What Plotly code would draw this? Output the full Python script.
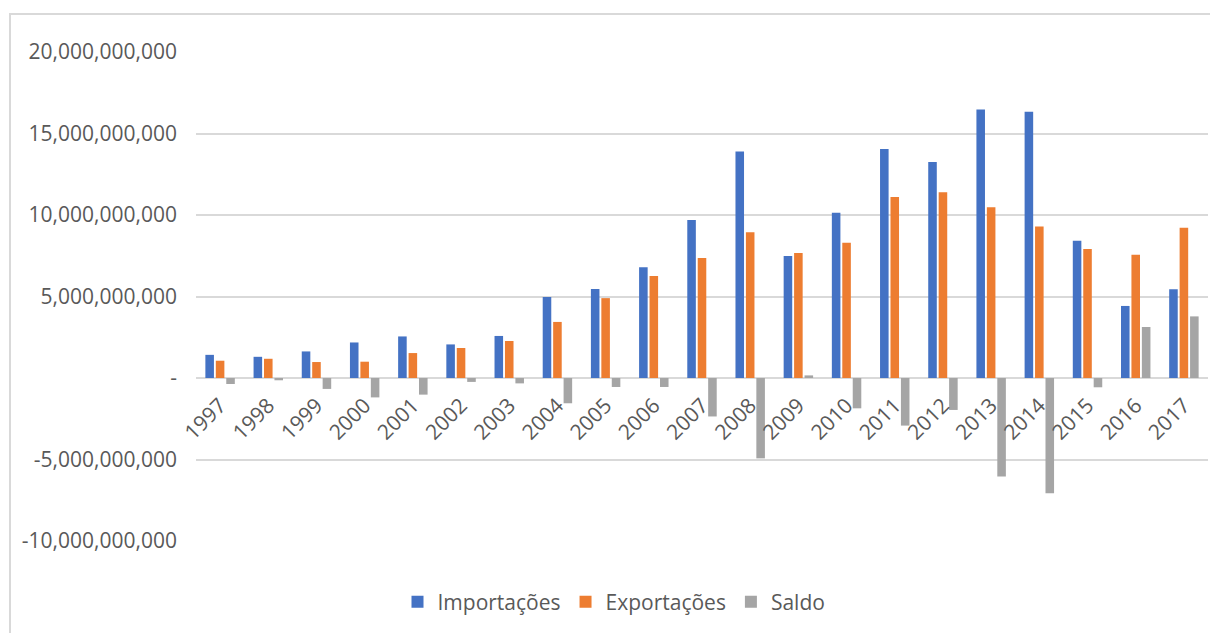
import plotly.graph_objects as go

# Annual trade values (US$)
anos = ["1997", "1998", "1999", "2000", "2001", "2002", "2003", "2004", "2005", "2006", "2007",
        "2008", "2009", "2010", "2011", "2012", "2013", "2014", "2015", "2016", "2017"]
importacoes = [1.42e9, 1.30e9, 1.63e9, 2.18e9, 2.55e9, 2.06e9, 2.58e9, 4.97e9, 5.46e9, 6.80e9, 9.70e9,
               13.90e9, 7.48e9, 10.14e9, 14.05e9, 13.25e9, 16.48e9, 16.34e9, 8.42e9, 4.42e9, 5.44e9]
exportacoes = [1.06e9, 1.18e9, 0.98e9, 1.00e9, 1.53e9, 1.84e9, 2.27e9, 3.44e9, 4.90e9, 6.26e9, 7.36e9,
               8.94e9, 7.67e9, 8.30e9, 11.10e9, 11.39e9, 10.47e9, 9.30e9, 7.91e9, 7.56e9, 9.22e9]
saldo = [-0.37e9, -0.14e9, -0.67e9, -1.19e9, -1.02e9, -0.24e9, -0.33e9, -1.55e9, -0.55e9, -0.55e9, -2.36e9,
         -4.93e9, 0.16e9, -1.86e9, -2.92e9, -1.96e9, -6.05e9, -7.07e9, -0.57e9, 3.13e9, 3.78e9]

y_ticks = [-10e9, -5e9, 0, 5e9, 10e9, 15e9, 20e9]
y_tick_text = ["-10,000,000,000", "-5,000,000,000", "-", "5,000,000,000",
               "10,000,000,000", "15,000,000,000", "20,000,000,000"]

FONT = "Open Sans"
TEXT = "#595959"
GRID = "#d9d9d9"
SIZE = 21

fig = go.Figure()
fig.add_trace(go.Bar(name="Importações", x=anos, y=importacoes, marker_color="#4472C4", marker_line_width=0))
fig.add_trace(go.Bar(name="Exportações", x=anos, y=exportacoes, marker_color="#ED7D31", marker_line_width=0))
fig.add_trace(go.Bar(name="Saldo", x=anos, y=saldo, marker_color="#A5A5A5", marker_line_width=0))

L, R, T, B = 196, 2, 52, 92
W, H = 1210, 633
pw, ph = W - L - R, H - T - B

def px_x(x):
    return (x - L) / pw

def px_y(y):
    return (H - B - y) / ph

fig.update_layout(
    width=W, height=H,
    margin=dict(l=L, r=R, t=T, b=B, pad=0),
    paper_bgcolor="white", plot_bgcolor="white",
    barmode="group", bargap=0.35, bargroupgap=0.18,
    font=dict(family=FONT, color=TEXT, size=SIZE),
    showlegend=True,
    legend=dict(orientation="h", x=px_x(614), xanchor="center", y=px_y(602), yanchor="middle",
                font=dict(size=SIZE, color=TEXT), itemwidth=30, traceorder="normal",
                bgcolor="rgba(0,0,0,0)"),
    xaxis=dict(type="category", anchor="free", position=px_y(378), tickangle=-45,
               showgrid=False, showline=False, zeroline=False, ticks="",
               tickfont=dict(size=SIZE, color=TEXT), ticklabelstandoff=10),
    yaxis=dict(range=[-10e9, 20e9], tickvals=y_ticks, ticktext=y_tick_text,
               showgrid=True, gridcolor=GRID, gridwidth=1.5,
               zeroline=True, zerolinecolor=GRID, zerolinewidth=1.5,
               showline=False, ticks="", ticklabelstandoff=18,
               tickfont=dict(size=SIZE, color=TEXT)),
    shapes=[dict(type="rect", xref="paper", yref="paper",
                 x0=px_x(10), x1=px_x(1240), y0=px_y(660), y1=px_y(14),
                 line=dict(color=GRID, width=2), fillcolor="rgba(0,0,0,0)", layer="below")],
)

fig.write_html("out.html")
